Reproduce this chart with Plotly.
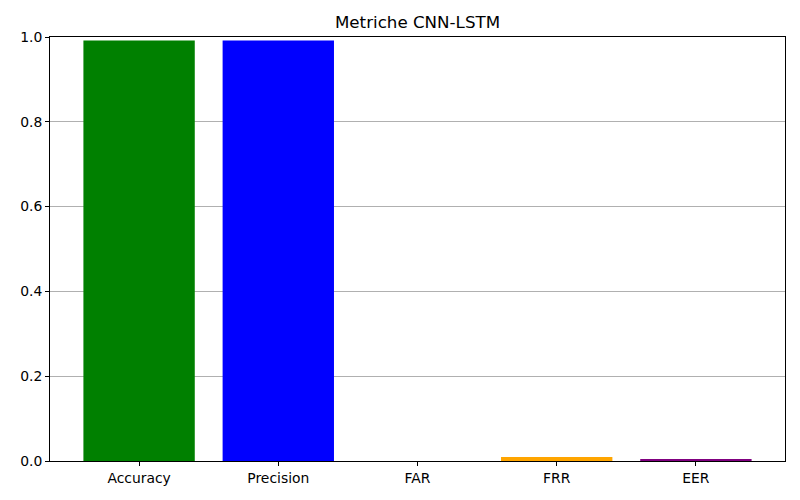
import plotly.graph_objects as go

metrics = ['Accuracy', 'Precision', 'FAR', 'FRR', 'EER']
values = [0.992, 0.992, 0.0, 0.0095, 0.005]
colors = ['green', 'blue', 'red', 'orange', 'purple']

fig = go.Figure(go.Bar(x=metrics, y=values, marker_color=colors, width=0.8,
                       marker_line_width=0))

# the page adds an 8px body margin, margins below account for it
fig.update_layout(
    width=800, height=500,
    margin=dict(l=35, r=23, t=29, b=47),
    paper_bgcolor='white', plot_bgcolor='white',
    font=dict(family='DejaVu Sans', size=13.9, color='black'),
    title=dict(text='Metriche CNN-LSTM', xref='paper', x=0.5, xanchor='center',
               y=0.972, yanchor='middle', font=dict(size=16.7)),
    showlegend=False,
)
fig.update_xaxes(showline=True, linecolor='black', linewidth=1, mirror=True,
                 ticks='outside', ticklen=4, tickcolor='black', showgrid=False,
                 range=[-0.64, 4.64])
fig.update_yaxes(showline=True, linecolor='black', linewidth=1, mirror=True,
                 ticks='outside', ticklen=4, tickcolor='black', range=[0, 1],
                 dtick=0.2, tickformat='.1f', showgrid=True, gridcolor='#b0b0b0',
                 gridwidth=0.8, zeroline=False)

fig.write_html('out.html')
